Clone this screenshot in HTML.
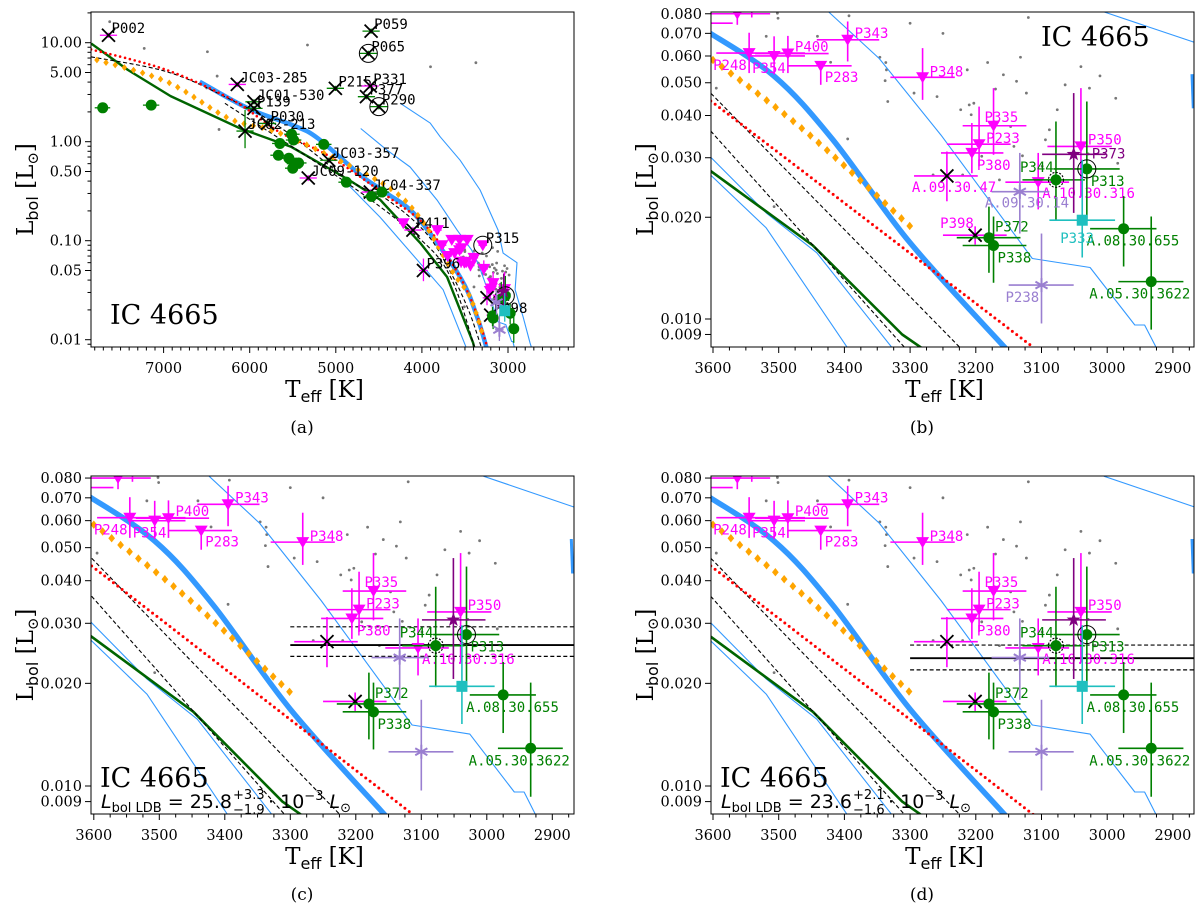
<!DOCTYPE html>
<html><head><meta charset="utf-8"><title>IC 4665 HR diagrams</title>
<style>
html,body{margin:0;padding:0;background:#fff;}
svg{display:block;}
.tick{font-family:"DejaVu Serif","Liberation Serif",serif;font-size:14.5px;fill:#000;}
.ttl{font-family:"DejaVu Serif","Liberation Serif",serif;font-size:23px;fill:#000;}
.cap{font-family:"DejaVu Serif","Liberation Serif",serif;font-size:17px;fill:#000;}
.lbl{font-family:"DejaVu Sans Mono","Liberation Mono",monospace;font-size:14px;}
.ic{font-family:"DejaVu Serif","Liberation Serif",serif;font-size:27px;fill:#000;}
.frm{font-family:"DejaVu Sans","Liberation Sans",sans-serif;fill:#000;}
</style></head>
<body>
<svg id="fig" width="1200" height="905" viewBox="0 0 1200 905" xmlns="http://www.w3.org/2000/svg"></svg>
<script>
// ---------- DATA ----------
const ptName=['','P248','P354','P400','P283','P343','P348','P335','P233','P380','A.10.30.316','P350','A.09.30.47','P398','P372','P338','P344','P313','A.08.30.655','A.05.30.3622','P373','A.09.30.14','P238','P333',
'P002','JC03-285','P059','P065','P215','P331','P377','P290','JC01-530','P139','P030','JC02-213','JC03-357','JC09-120','JC04-337','P411','P396','P315',
'','','','','','','','','','','','','','','','','','','','','','',''];
const ptKind=['tri','tri','tri','tri','tri','tri','tri','tri','tri','tri','tri','tri','xm','xm','dot','dot','dot','dot','dot','dot','star','ast','ast','sq',
'xm','xm','xg','xg','xg','xm','xg','xg','xg','xg','xg','xg','xg','xm','xm','xm','xm','tri',
'dot','dot','dot','dot','dot','dot','dot','dot','dot','dot','dot','dot','dot','dot','tri','tri','tri','tri','tri','tri','tri','tri','tri'];
const ptT=[3563,3545,3507,3486,3436,3395,3281,3173,3195,3206,3105,3040,3244,3201,3180,3173,3078,3031,2975,2933,3051,3133,3100,3038,
7640,6144,4590,4622,5005,4600,4644,4500,5950,5950,5793,6054,5081,5320,4599,4104,3982,3293,
7707,7144,5649,5514,5491,5140,5667,5545,5477,5432,5500,4878,4586,4464,4216,3820,3766,3653,3563,3473,3541,3620,3700];
const ptL=[0.080,0.0612,0.060,0.061,0.0561,0.067,0.0519,0.0373,0.0329,0.0310,0.0254,0.0324,0.0265,0.0177,0.0174,0.0165,0.0258,0.0278,0.0185,0.0129,0.0307,0.0238,0.0126,0.0196,
11.9,3.79,13.1,7.8,3.46,3.65,2.85,2.26,2.53,2.17,1.53,1.28,0.65,0.43,0.31,0.128,0.05,0.090,
2.2,2.34,0.96,1.19,1.04,0.94,0.73,0.68,0.60,0.61,0.54,0.39,0.28,0.31,0.15,0.128,0.090,0.102,0.102,0.102,0.084,0.075,0.070];
const ptTlo=[3513,3460,3460,3424,3389,3347,3232,3123,3147,3158,3058,2993,3197,3153,3132,3123,3034,2981,2925,2884,3002,3088,3051,2988,
7540,6044,4490,4522,4905,4500,4544,4400,5850,5850,5693,5954,4981,5220,4499,4004,3932,3243,
7620,7050,5560,5420,5400,5050,5580,5450,5390,5340,5410,4790,4500,4380,4166,3770,3716,3603,3513,3423,3491,3570,3650];
const ptThi=[3604,3595,3545,3536,3486,3442,3330,3220,3244,3253,3155,3091,3294,3250,3229,3220,3129,3082,3026,2983,3099,3176,3150,3088,
7740,6244,4690,4722,5105,4700,4744,4600,6050,6050,5893,6154,5181,5420,4699,4204,4032,3343,
7800,7240,5740,5600,5580,5230,5760,5640,5570,5520,5590,4970,4680,4550,4266,3870,3816,3703,3613,3523,3591,3670,3750];
const ptLlo=[0.0742,0.0534,0.0529,0.0534,0.0493,0.0578,0.0445,0.0306,0.0283,0.0270,0.0211,0.0230,0.0223,0.0166,0.0137,0.0128,0.0195,0.0195,0.0143,0.0093,0.0206,0.0179,0.0097,0.0152,
11.2,3.56,12.3,7.3,3.25,3.43,2.68,2.12,2.38,2.04,1.44,0.86,0.61,0.40,0.29,0.118,0.039,0.084,
2.1,2.24,0.91,1.13,0.99,0.89,0.69,0.64,0.57,0.58,0.51,0.37,0.265,0.29,0.14,0.12,0.084,0.095,0.095,0.095,0.078,0.07,0.065];
const ptLhi=[0.085,0.0703,0.0686,0.0688,0.0578,0.0759,0.0633,0.0482,0.0425,0.0380,0.0310,0.0482,0.0313,0.0188,0.0215,0.0201,0.0384,0.0440,0.0231,0.0201,0.0466,0.0310,0.0179,0.0296,
12.6,4.02,13.9,8.3,3.67,3.87,3.02,2.40,2.68,2.30,1.62,2.09,0.69,0.46,0.33,0.138,0.066,0.096,
2.3,2.44,1.01,1.25,1.09,0.99,0.77,0.72,0.63,0.64,0.57,0.41,0.295,0.33,0.16,0.136,0.096,0.109,0.109,0.109,0.09,0.08,0.075];
const ptRing=[0,0,0,0,0,0,0,0,0,0,0,0,0,0,0,0,2,1,0,0,0,0,0,0, 0,0,0,1,0,0,0,1,0,0,0,0,0,0,0,0,0,1, 0,0,0,0,0,0,0,0,0,0,0,0,0,0,0,0,0,0,0,0,0,0,0];
const ptLabA=[0,0,0,0,0,0,0,0,0,0,0,0,0,1,0,0,0,0,0,0,0,0,0,0, 1,1,1,1,1,1,1,1,1,1,1,1,1,1,1,1,1,1, 0,0,0,0,0,0,0,0,0,0,0,0,0,0,0,0,0,0,0,0,0,0,0];
const ptLabB=[0,1,1,1,1,1,1,1,1,1,1,1,1,1,1,1,1,1,1,1,1,1,1,1];
const ptLabCD=[0,1,1,1,1,1,1,1,1,1,1,1,0,0,1,1,1,1,1,1,0,0,0,0];
const ptDx=[0,-36,-22,7,4,7,7,-9,7,5,4,7,-35,-35,6,4,-36,4,-37,-62,18,-35,-36,-22];
const ptDy=[0,17,17,-2,16,-2,-1,-4,-1,17,16,-2,16,-7,-6,17,-8,17,17,17,4,16,17,23];

const greyT=[3502,3501,3519,3441,3421,3393,3346,3337,3336,3338,3294,3259,3334,3213,3182,3132,3158,3170,3138,3123,3064,3040,3011,2987,3207,3203,3210,3223,3147,3088,3094,3142,3129,3191,3265,3220,3164,3029,2984,3507,3595,3027,3076,3395,3099,
7626,7225,6491,5329,3900,3373,6378,6356,6500,3300,3250,3180,3120];
const greyL=[0.0803,0.0776,0.0686,0.0686,0.0575,0.0789,0.0595,0.0574,0.0546,0.0507,0.0466,0.0455,0.0440,0.0546,0.0574,0.0595,0.0528,0.0479,0.0505,0.0466,0.0493,0.0558,0.0524,0.0450,0.0402,0.0435,0.0430,0.0416,0.0371,0.0363,0.0339,0.0324,0.0304,0.0303,0.0267,0.0267,0.0258,0.0308,0.0289,0.0215,0.0482,0.0482,0.0416,0.0341,0.0283,
16.3,8.77,8.1,9.47,5.72,6.28,4.6,1.33,3.5,0.075,0.07,0.085,0.078];

// overview (panel a) model curves [Teff, Lbol]
const aGreen=[[7840,9.8],[7414,5.3],[6919,2.89],[6108,1.36],[5522,0.89],[4847,0.41],[4487,0.26],[4020,0.095],[3707,0.043],[3405,0.0093],[3380,0.0075]];
const aBlue=[[6581,4.04],[6018,2.17],[5477,1.44],[5207,1.08],[4700,0.45],[4404,0.30],[4055,0.173],[3556,0.043],[3359,0.017],[3243,0.0079]];
const aOrange=[[7775,6.69],[6964,4.04],[6243,1.72],[5748,1.31],[5207,0.82],[4396,0.35],[4000,0.16],[3640,0.048],[3441,0.027],[3290,0.011]];
const aRed=[[7842,8.56],[6964,5.3],[6198,2.63],[5658,1.26],[5072,0.71],[4396,0.279],[3946,0.139],[3600,0.05],[3400,0.022],[3230,0.0079]];
const aDash1=[[7842,7.2],[6964,5.1],[6288,2.85],[5658,1.42],[4847,0.41],[4396,0.257],[3946,0.118],[3650,0.045],[3450,0.019],[3300,0.0079]];
const aDash2=[[6288,2.44],[4847,0.37],[4000,0.10],[3650,0.04],[3380,0.0079]];
const aThin1=[[4847,0.36],[4487,0.173],[3754,0.032],[3475,0.0079]];
const thinIso=[[4711,1.36],[4404,0.82],[4137,0.555],[3823,0.257],[3591,0.128],[3424,0.081],[3347,0.059],[3253,0.035],[3114,0.0151],[3026,0.0142],[2958,0.0096],[2943,0.0096],[2925,0.0082],[2915,0.0075]];
const aThin3=[[4253,2.45],[3904,1.54],[3788,1.12],[3556,0.65],[3324,0.325],[3115,0.128],[3057,0.075],[2895,0.06],[2918,0.032],[2825,0.017],[2744,0.0093],[2700,0.007]];
// zoom panels model curves
const zBlue=[[3610,0.0712],[3507,0.0523],[3418,0.0340],[3300,0.0168],[3155,0.0082],[3145,0.0078]];
const zOrange=[[3600,0.0584],[3460,0.0360],[3300,0.0188]];
const zRed=[[3610,0.0452],[3100,0.0079]];
const zDash1=[[3610,0.0480],[3215,0.0079]];
const zDash2=[[3610,0.0372],[3300,0.0079]];
const zGreen=[[3610,0.0280],[3448,0.0165],[3312,0.0090],[3282,0.0082],[3276,0.0079]];
const zThinL1=[[3610,0.0310],[3519,0.0206],[3442,0.0157],[3327,0.0082],[3322,0.0079]];
const zThinL2=[[3610,0.0274],[3519,0.0186],[3395,0.0082],[3390,0.0079]];
const zThinTR=[[3005,0.081],[2867,0.0658]];
const zThick2=[[2871,0.053],[2869,0.042]];
// LDB luminosity bands (panels c, d)
const ldbStartT=[3300,3300];
const ldbMid=[0.0259,0.0237];
const ldbLo=[0.0240,0.0219];
const ldbHi=[0.0293,0.0259];
const ldbVal=['25.8','23.6'];
const ldbPlus=['+3.3','+2.1'];
const ldbMinus=['\u22121.9','\u22121.6'];
// ticks
const aXMajor=[7000,6000,5000,4000,3000];
const aYMajor=[10,5,1,0.5,0.1,0.05,0.01];
const aYLabels=['10.00','5.00','1.00','0.50','0.10','0.05','0.01'];
const zXMajor=[3600,3500,3400,3300,3200,3100,3000,2900];
const zYMajor=[0.08,0.07,0.06,0.05,0.04,0.03,0.02,0.01,0.009];
const zYLabels=['0.080','0.070','0.060','0.050','0.040','0.030','0.020','0.010','0.009'];

// ---------- LAYOUT ----------
const NS='http://www.w3.org/2000/svg';
const svg=document.getElementById('fig');
function mk(tag,attrs,parent){const e=document.createElementNS(NS,tag);for(const k in attrs)e.setAttribute(k,attrs[k]);(parent||svg).appendChild(e);return e;}
const panels=[
 {id:'a',x0:91,x1:574,y0:12,y1:347,tx:T=>163.6+(7000-T)*0.0861,ly:L=>141.7-Math.log10(L)*99,cap:'(a)',cx:302},
 {id:'b',x0:711,x1:1194,y0:12,y1:347,tx:T=>713+(3600-T)*0.657,ly:L=>319-(Math.log10(L)+2)*338,cap:'(b)',cx:922},
 {id:'c',x0:91,x1:574,y0:476,y1:814,tx:T=>93.8+(3600-T)*0.655,ly:L=>786-(Math.log10(L)+2)*341,cap:'(c)',cx:302},
 {id:'d',x0:711,x1:1194,y0:476,y1:814,tx:T=>713+(3600-T)*0.657,ly:L=>786-(Math.log10(L)+2)*341,cap:'(d)',cx:922}
];
const defs=mk('defs',{});
const MAG='#ff00ff',GRN='#008000',BLU='#3399ff',LAV='#9a7fd0',PUR='#800080',CYN='#1fbfbf';

function pathD(p,arr,smooth){
  const P=arr.map(q=>[p.tx(q[0]),p.ly(q[1])]);
  let d='M'+P[0][0].toFixed(1)+','+P[0][1].toFixed(1);
  if(!smooth){for(let i=1;i<P.length;i++)d+=' L'+P[i][0].toFixed(1)+','+P[i][1].toFixed(1);return d;}
  for(let i=0;i<P.length-1;i++){
    const p0=P[Math.max(i-1,0)],p1=P[i],p2=P[i+1],p3=P[Math.min(i+2,P.length-1)];
    const c1=[p1[0]+(p2[0]-p0[0])/6,p1[1]+(p2[1]-p0[1])/6];
    const c2=[p2[0]-(p3[0]-p1[0])/6,p2[1]-(p3[1]-p1[1])/6];
    d+=` C${c1[0].toFixed(1)},${c1[1].toFixed(1)} ${c2[0].toFixed(1)},${c2[1].toFixed(1)} ${p2[0].toFixed(1)},${p2[1].toFixed(1)}`;
  }
  return d;
}
function curve(p,g,arr,st,name,smooth){
  const e=mk('path',Object.assign({d:pathD(p,arr,smooth),fill:'none','stroke-linejoin':'round'},st),g);
  
  
  return e;
}
function diamonds(p,g,arr,step,size,name){
  const e=mk('path',{d:pathD(p,arr,true),fill:'none',stroke:'none'},g);
  
  
  const len=e.getTotalLength();
  const dg=mk('g',{},g);
  
  
  for(let s=0;s<=len+0.1;s+=step){
    const pt=e.getPointAtLength(Math.min(s,len));
    mk('path',{d:`M${pt.x},${pt.y-size} L${pt.x+size*0.8},${pt.y} L${pt.x},${pt.y+size} L${pt.x-size*0.8},${pt.y} Z`,fill:'#ffa500'},dg);
  }
}

panels.forEach((p,pi)=>{
  const zoom=p.id!=='a';
  const pg=mk('g',{});
  
  
  const cp=mk('clipPath',{id:'clip-'+p.id},defs);
  mk('rect',{x:p.x0,y:p.y0,width:p.x1-p.x0,height:p.y1-p.y0},cp);
  const g=mk('g',{'clip-path':'url(#clip-'+p.id+')'},pg);
  
  

  greyT.forEach((T,i)=>{
    const c=mk('circle',{cx:p.tx(T),cy:p.ly(greyL[i]),r:1.4,fill:'#777'},g);
    
    
  });

  if(!zoom){
    curve(p,g,aThin3,{stroke:BLU,'stroke-width':1.1},'isochrone-thin-right',false);
    curve(p,g,thinIso,{stroke:BLU,'stroke-width':1.1},'isochrone-thin-mid',false);
    curve(p,g,aThin1,{stroke:BLU,'stroke-width':1.1},'isochrone-thin-left',false);
    curve(p,g,aGreen,{stroke:'#006400','stroke-width':2.4},'model-green-line',false);
    curve(p,g,aDash2,{stroke:'#000','stroke-width':1.1,'stroke-dasharray':'4 2.5'},'model-dashed-2',true);
    curve(p,g,aBlue,{stroke:BLU,'stroke-width':4.5},'isochrone-thick',true);
    curve(p,g,aDash1,{stroke:'#000','stroke-width':1.1,'stroke-dasharray':'4 2.5'},'model-dashed-1',true);
    curve(p,g,aRed,{stroke:'#ff0000','stroke-width':2.6,'stroke-dasharray':'0 5','stroke-linecap':'round'},'model-red-dotted',true);
    diamonds(p,g,aOrange,9.5,3.4,'model-orange-diamonds');
  } else {
    curve(p,g,thinIso,{stroke:BLU,'stroke-width':1.1},'isochrone-thin-upper',false);
    curve(p,g,zThinTR,{stroke:BLU,'stroke-width':1.1},'isochrone-thin-top-right',false);
    curve(p,g,zThick2,{stroke:BLU,'stroke-width':3},'isochrone-thick-edge',false);
    curve(p,g,zThinL1,{stroke:BLU,'stroke-width':1.1},'isochrone-thin-lower-1',false);
    curve(p,g,zThinL2,{stroke:BLU,'stroke-width':1.1},'isochrone-thin-lower-2',false);
    curve(p,g,zGreen,{stroke:'#006400','stroke-width':2.6},'model-green-line',false);
    curve(p,g,zDash2,{stroke:'#000','stroke-width':1.1,'stroke-dasharray':'4 2.5'},'model-dashed-2',false);
    curve(p,g,zDash1,{stroke:'#000','stroke-width':1.1,'stroke-dasharray':'4 2.5'},'model-dashed-1',false);
    curve(p,g,zBlue,{stroke:BLU,'stroke-width':5.5},'isochrone-thick',true);
    curve(p,g,zRed,{stroke:'#ff0000','stroke-width':3,'stroke-dasharray':'0 5.5','stroke-linecap':'round'},'model-red-dotted',false);
    diamonds(p,g,zOrange,11.2,4.2,'model-orange-diamonds');
  }

  if(p.id==='c'||p.id==='d'){
    const k=p.id==='c'?0:1;
    const xs=p.tx(ldbStartT[k]);
    [[ldbHi[k],'4 2.5','ldb-upper-bound'],[ldbMid[k],null,'ldb-luminosity-line'],[ldbLo[k],'4 2.5','ldb-lower-bound']].forEach(b=>{
      const a={x1:xs,x2:p.x1,y1:p.ly(b[0]),y2:p.ly(b[0]),stroke:'#000','stroke-width':b[1]?1.2:1.8};
      if(b[1])a['stroke-dasharray']=b[1];
      const l=mk('line',a,g);
      
      
    });
  }

  ptT.forEach((T,i)=>{
    const kind=ptKind[i];
    const x=p.tx(T),y=p.ly(ptL[i]);
    const col=kind==='tri'||kind==='xm'?MAG:kind==='dot'||kind==='xg'?GRN:kind==='star'?PUR:kind==='ast'?LAV:CYN;
    const pg2=mk('g',{},g);
    
    
    const lw=zoom?1.6:1.3;
    mk('line',{x1:p.tx(ptTlo[i]),x2:p.tx(ptThi[i]),y1:y,y2:y,stroke:col,'stroke-width':lw},pg2);
    mk('line',{x1:x,x2:x,y1:p.ly(ptLlo[i]),y2:p.ly(ptLhi[i]),stroke:col,'stroke-width':lw},pg2);
    if(kind==='tri'){
      mk('path',{d:`M${x-6.5},${y-5} L${x+6.5},${y-5} L${x},${y+6} Z`,fill:MAG},pg2);
    } else if(kind==='dot'){
      mk('circle',{cx:x,cy:y,r:5.5,fill:GRN},pg2);
    } else if(kind==='xm'||kind==='xg'){
      const s=6.5;
      mk('path',{d:`M${x-s},${y-s} L${x+s},${y+s} M${x-s},${y+s} L${x+s},${y-s}`,stroke:'#000','stroke-width':1.8},pg2);
    } else if(kind==='star'){
      let d='';for(let k=0;k<10;k++){const r=k%2?3:7.5,a=-Math.PI/2+k*Math.PI/5;d+=(k?'L':'M')+(x+r*Math.cos(a)).toFixed(1)+','+(y+r*Math.sin(a)).toFixed(1);}
      mk('path',{d:d+'Z',fill:PUR},pg2);
    } else if(kind==='ast'){
      let d='';for(let k=0;k<3;k++){const a=Math.PI/2+k*Math.PI/3;d+=`M${x+7*Math.cos(a)},${y+7*Math.sin(a)} L${x-7*Math.cos(a)},${y-7*Math.sin(a)} `;}
      mk('path',{d:d,stroke:LAV,'stroke-width':2},pg2);
    } else if(kind==='sq'){
      mk('rect',{x:x-5.5,y:y-5.5,width:11,height:11,fill:CYN},pg2);
    }
    if(ptRing[i]===1)mk('circle',{cx:x,cy:y,r:9,fill:'none',stroke:'#000','stroke-width':1},pg2);
    if(ptRing[i]===2)mk('circle',{cx:x,cy:y,r:7.5,fill:'none',stroke:'#000','stroke-width':1.1,'stroke-dasharray':'2 1.5'},pg2);
    let show=false,lx=0,ly=0,lc='#000';
    if(!zoom){ if(ptLabA[i]){show=true;lx=x+3;ly=y-2;lc='#000';} }
    else {
      const f=(p.id==='b')?ptLabB[i]:ptLabCD[i];
      if(f){show=true;lx=x+ptDx[i];ly=y+ptDy[i];lc=col;if(kind==='xm')lc=MAG;}
    }
    if(show){
      const t=mk('text',{x:lx,y:ly,class:'lbl',fill:lc},pg2);
      t.textContent=ptName[i];
      
      
    }
  });

  const fr=mk('rect',{x:p.x0,y:p.y0,width:p.x1-p.x0,height:p.y1-p.y0,fill:'none',stroke:'#000','stroke-width':1},pg);
  
  

  const xt=mk('g',{},pg);
  
  
  const xMaj=zoom?zXMajor:aXMajor;
  const minStep=zoom?25:100;
  for(let T=(zoom?3625:7900);T>=(zoom?2850:2200);T-=minStep){
    const x=p.tx(T); if(x<p.x0-0.5||x>p.x1+0.5)continue;
    const maj=xMaj.includes(T);
    mk('line',{x1:x,x2:x,y1:p.y1,y2:p.y1+(maj?6:3.5),stroke:'#000','stroke-width':1},xt);
  }
  xMaj.forEach(T=>{
    const t=mk('text',{x:p.tx(T),y:p.y1+26,class:'tick','text-anchor':'middle'},xt);
    t.textContent=String(T);
    
    
  });
  const yt=mk('g',{},pg);
  
  
  const yMaj=zoom?zYMajor:aYMajor, yLab=zoom?zYLabels:aYLabels;
  if(!zoom){
    [0.001,0.01,0.1,1,10].forEach(dec=>{for(let m=2;m<=9;m++){const v=dec*m;if(aYMajor.some(q=>Math.abs(q-v)<1e-9))continue;const y=p.ly(v);if(y<p.y0||y>p.y1)continue;mk('line',{x1:p.x0-3.5,x2:p.x0,y1:y,y2:y,stroke:'#000','stroke-width':1},yt);}});
  }
  yMaj.forEach((v,i)=>{
    const y=p.ly(v);
    mk('line',{x1:p.x0-6,x2:p.x0,y1:y,y2:y,stroke:'#000','stroke-width':1},yt);
    const t=mk('text',{x:p.x0-9,y:y+5,class:'tick','text-anchor':'end'},yt);
    t.textContent=yLab[i];
    
    
  });
  const xcx=(p.x0+p.x1)/2-8;
  const xtl=mk('text',{x:xcx,y:p.y1+50,class:'ttl','text-anchor':'middle'},pg);
  xtl.innerHTML='T<tspan font-family="DejaVu Sans, Liberation Sans, sans-serif" font-size="16" dy="5">eff</tspan><tspan dy="-5"> [K]</tspan>';
  
  
  const ycx=p.x0-58, ycy=(p.y0+p.y1)/2+10;
  const ytl=mk('text',{x:0,y:0,class:'ttl','text-anchor':'middle',transform:`translate(${ycx},${ycy}) rotate(-90)`},pg);
  ytl.innerHTML='L<tspan font-family="DejaVu Sans, Liberation Sans, sans-serif" font-size="16" dy="5">bol</tspan><tspan dy="-5"> [L</tspan><tspan font-size="15" dy="5">\u2299</tspan><tspan dy="-5">]</tspan>';
  
  
  const cap=mk('text',{x:p.cx,y:p.y1+86,class:'cap','text-anchor':'middle'},pg);
  cap.textContent=p.cap;
  
  
  let icx,icy;
  if(p.id==='a'){icx=110;icy=324;} else if(p.id==='b'){icx=1041;icy=46;} else {icx=p.x0+9;icy=p.y1-27;}
  const ic=mk('text',{x:icx,y:icy,class:'ic'},pg);
  ic.textContent='IC 4665';
  
  
  if(p.id==='c'||p.id==='d'){
    const k=p.id==='c'?0:1;
    const fx=p.x0+10, fy=p.y1-6;
    const f1=mk('text',{x:fx,y:fy,class:'frm','font-size':'19'},pg);
    f1.innerHTML='<tspan font-style="italic">L</tspan><tspan font-size="13" dy="4">bol LDB</tspan><tspan dy="-4"> = '+ldbVal[k]+'</tspan>';
    
    
    const w=f1.getComputedTextLength?f1.getComputedTextLength():150;
    const sp=mk('text',{x:fx+w+1,y:fy-9,class:'frm','font-size':'13'},pg);
    sp.textContent=ldbPlus[k];
    
    
    const sb=mk('text',{x:fx+w+1,y:fy+6,class:'frm','font-size':'13'},pg);
    sb.textContent=ldbMinus[k];
    
    
    const f2=mk('text',{x:fx+w+36,y:fy,class:'frm','font-size':'19'},pg);
    f2.innerHTML='\u00b7 10<tspan font-size="13" dy="-8">\u22123</tspan><tspan dy="8" font-style="italic"> L</tspan><tspan font-size="13" dy="4">\u2299</tspan>';
    
    
  }
});
</script>
</body></html>
